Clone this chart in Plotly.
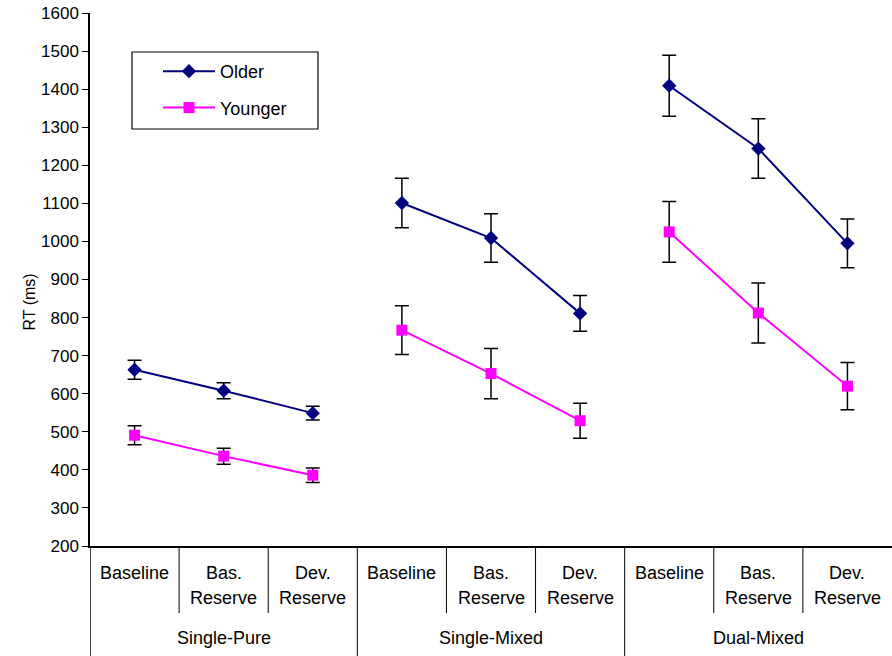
import plotly.graph_objects as go

# ---- data ----
groups = ["Single-Pure", "Single-Mixed", "Dual-Mixed"]
cond_line1 = ["Baseline", "Bas.", "Dev."]
cond_line2 = ["", "Reserve", "Reserve"]
older = [663, 608, 549, 1101, 1009, 811, 1409, 1244, 995]
older_err = [25, 21, 18, 65, 64, 47, 80, 78, 64]
younger = [491, 436, 386, 767, 653, 529, 1025, 812, 620]
younger_err = [25, 21, 19, 64, 66, 46, 80, 79, 62]
y_ticks = list(range(200, 1601, 100))

FONT = "Liberation Sans, Arial, sans-serif"
n_cond = len(cond_line1)
n_cat = len(groups) * n_cond


def with_gaps(vals):
    out = []
    for g in range(len(groups)):
        out.extend(vals[g * n_cond:(g + 1) * n_cond])
        out.append(None)
    return out


xs = with_gaps(list(range(n_cat)))

fig = go.Figure()
fig.add_trace(go.Scatter(
    x=xs, y=with_gaps(older), name="Older", mode="lines+markers",
    line=dict(color="#000080", width=2),
    marker=dict(symbol="diamond", size=11, color="#000080"),
    error_y=dict(type="data", array=with_gaps(older_err), color="black", thickness=1.5, width=7),
    connectgaps=False, legendgroup="a",
))
fig.add_trace(go.Scatter(
    x=xs, y=with_gaps(younger), name="Younger", mode="lines+markers",
    line=dict(color="#FF00FF", width=2),
    marker=dict(symbol="square", size=11, color="#FF00FF"),
    error_y=dict(type="data", array=with_gaps(younger_err), color="black", thickness=1.5, width=7),
    connectgaps=False, legendgroup="b",
))

H_PLOT = 533.0
def py(pix):  # pixel below the x axis -> paper y
    return -pix / H_PLOT

shapes = []
# left axis extension
shapes.append(dict(type="line", xref="x", yref="paper", x0=-0.5, x1=-0.5, y0=0, y1=py(112),
                   line=dict(color="black", width=1.5)))
for i in range(1, n_cat):
    xpos = i - 0.5
    if i % n_cond == 0:
        y1 = py(112)
    else:
        y1 = py(67)
    shapes.append(dict(type="line", xref="x", yref="paper", x0=xpos, x1=xpos, y0=0, y1=y1,
                       line=dict(color="black", width=1)))
# legend box
shapes.append(dict(type="rect", xref="paper", yref="paper",
                   x0=(132 - 90) / 802, x1=(318 - 90) / 802,
                   y0=(546 - 129) / H_PLOT, y1=(546 - 52) / H_PLOT,
                   line=dict(color="black", width=1.2), fillcolor="rgba(0,0,0,0)"))

annotations = []
lab_font = dict(family=FONT, size=18, color="black")
for i in range(n_cat):
    annotations.append(dict(x=i, y=py(27), xref="x", yref="paper", text=cond_line1[i % n_cond],
                            showarrow=False, xanchor="center", yanchor="middle", font=lab_font))
    if cond_line2[i % n_cond]:
        annotations.append(dict(x=i, y=py(52), xref="x", yref="paper", text=cond_line2[i % n_cond],
                                showarrow=False, xanchor="center", yanchor="middle", font=lab_font))
for g, name in enumerate(groups):
    annotations.append(dict(x=g * n_cond + 1, y=py(92), xref="x", yref="paper", text=name,
                            showarrow=False, xanchor="center", yanchor="middle", font=lab_font))
annotations.append(dict(x=(18 - 90) / 802, y=(546 - 302) / H_PLOT, xref="paper", yref="paper",
                        text="RT (ms)", textangle=-90, showarrow=False,
                        font=dict(family=FONT, size=16, color="black")))

fig.update_layout(
    width=892, height=656,
    margin=dict(l=90, r=0, t=13, b=110),
    paper_bgcolor="white", plot_bgcolor="white",
    font=dict(family=FONT, size=16, color="black"),
    showlegend=True,
    legend=dict(x=(158 - 90) / 802, y=(546 - 53) / H_PLOT, xanchor="left", yanchor="top",
                bgcolor="rgba(0,0,0,0)", borderwidth=0, tracegroupgap=10, itemwidth=52,
                traceorder="grouped", font=dict(family=FONT, size=18)),
    xaxis=dict(range=[-0.5, n_cat - 0.5], showline=True, linecolor="black", linewidth=1.5,
               showgrid=False, zeroline=False, showticklabels=False, ticks=""),
    yaxis=dict(range=[200, 1600], tickvals=y_ticks, showline=True, linecolor="black",
               linewidth=1.5, ticks="outside", ticklen=6, tickcolor="black", showgrid=False,
               zeroline=False, tickfont=dict(family=FONT, size=17)),
    shapes=shapes, annotations=annotations,
)

fig.write_html("out.html", config={"displayModeBar": False},
               post_script="document.body.style.margin='0px';")
